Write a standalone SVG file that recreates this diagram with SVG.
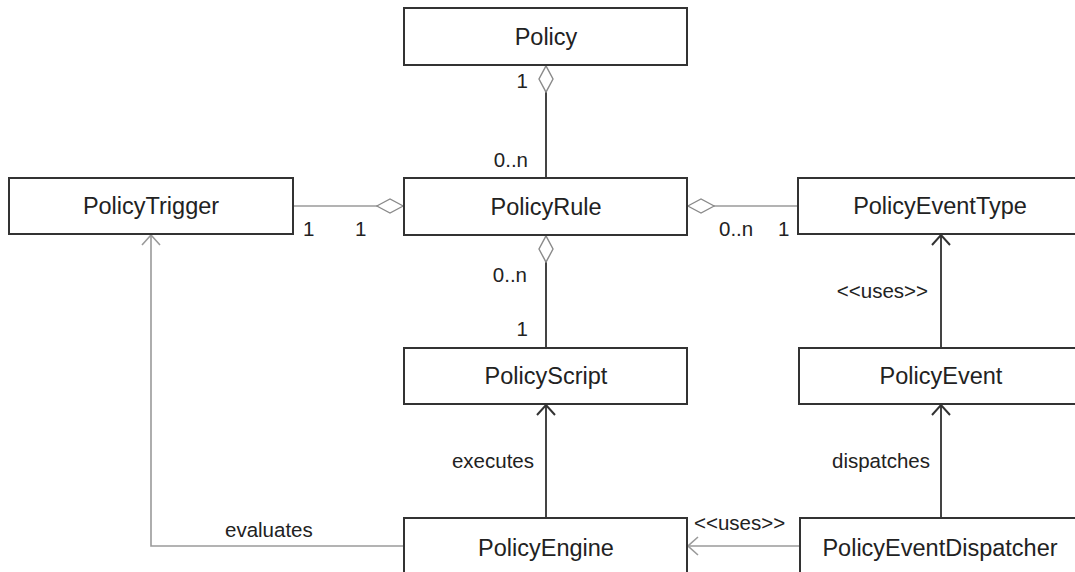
<svg xmlns="http://www.w3.org/2000/svg" width="1075" height="572" viewBox="0 0 1075 572">
  <style>
    .box { fill: #ffffff; stroke: #333333; stroke-width: 2; }
    .name { font-family: "Liberation Sans", Arial, sans-serif; font-size: 23.5px; fill: #222222; text-anchor: middle; }
    .lbl { font-family: "Liberation Sans", Arial, sans-serif; font-size: 20.5px; fill: #222222; }
    .end { text-anchor: end; }
    .dark { fill: none; stroke: #444444; stroke-width: 2; }
    .light { fill: none; stroke: #9a9a9a; stroke-width: 1.6; }
  </style>
  <defs>
    <marker id="diamond" viewBox="0 0 28 16" refX="0" refY="8" markerWidth="28" markerHeight="16" markerUnits="userSpaceOnUse" orient="auto">
      <path d="M0.8,8 L14,1 L27.2,8 L14,15 Z" fill="#ffffff" stroke="#8a8a8a" stroke-width="1.4"/>
    </marker>
    <marker id="arrowDark" viewBox="0 0 12 20" refX="11" refY="10" markerWidth="12" markerHeight="20" markerUnits="userSpaceOnUse" orient="auto">
      <path d="M1,1 L11,10 L1,19" fill="none" stroke="#333333" stroke-width="2"/>
    </marker>
    <marker id="arrowLight" viewBox="0 0 12 20" refX="11" refY="10" markerWidth="12" markerHeight="20" markerUnits="userSpaceOnUse" orient="auto">
      <path d="M1,1 L11,10 L1,19" fill="none" stroke="#9a9a9a" stroke-width="1.6"/>
    </marker>
  </defs>

  <rect width="1075" height="572" fill="#ffffff"/>

  <!-- connectors -->
  <g id="connectors">
    <path class="dark" d="M546,65 V178" marker-start="url(#diamond)"/>
    <path class="light" d="M404,206 H293" marker-start="url(#diamond)"/>
    <path class="light" d="M687,206 H798" marker-start="url(#diamond)"/>
    <path class="dark" d="M546,235 V348" marker-start="url(#diamond)"/>
    <path class="dark" d="M546,518 V405" marker-end="url(#arrowDark)"/>
    <path class="dark" d="M941,348 V235" marker-end="url(#arrowDark)"/>
    <path class="dark" d="M941,518 V405" marker-end="url(#arrowDark)"/>
    <path class="light" d="M800,546 H688" marker-end="url(#arrowLight)"/>
    <path class="light" d="M404,546 H151 V235" marker-end="url(#arrowLight)"/>

    <text class="lbl end" x="528" y="88">1</text>
    <text class="lbl end" x="528" y="167">0..n</text>
    <text class="lbl" x="303" y="236">1</text>
    <text class="lbl" x="355" y="236">1</text>
    <text class="lbl" x="719" y="236">0..n</text>
    <text class="lbl" x="778" y="236">1</text>
    <text class="lbl end" x="527" y="282">0..n</text>
    <text class="lbl end" x="528" y="336">1</text>
    <text class="lbl end" x="928" y="298">&lt;&lt;uses&gt;&gt;</text>
    <text class="lbl end" x="534" y="468">executes</text>
    <text class="lbl end" x="930" y="468">dispatches</text>
    <text class="lbl" x="694" y="530">&lt;&lt;uses&gt;&gt;</text>
    <text class="lbl" x="225" y="537">evaluates</text>
  </g>

  <!-- classes -->
  <g id="Policy">
    <rect class="box" x="404" y="8" width="283" height="57"/>
    <text class="name" x="546" y="45">Policy</text>
  </g>
  <g id="PolicyRule">
    <rect class="box" x="404" y="178" width="283" height="57"/>
    <text class="name" x="546" y="215">PolicyRule</text>
  </g>
  <g id="PolicyTrigger">
    <rect class="box" x="9" y="178" width="284" height="56"/>
    <text class="name" x="151" y="214">PolicyTrigger</text>
  </g>
  <g id="PolicyEventType">
    <rect class="box" x="798" y="178" width="286" height="56"/>
    <text class="name" x="940" y="214">PolicyEventType</text>
  </g>
  <g id="PolicyScript">
    <rect class="box" x="404" y="348" width="283" height="56"/>
    <text class="name" x="546" y="384">PolicyScript</text>
  </g>
  <g id="PolicyEvent">
    <rect class="box" x="799" y="348" width="285" height="56"/>
    <text class="name" x="941" y="384">PolicyEvent</text>
  </g>
  <g id="PolicyEngine">
    <rect class="box" x="404" y="518" width="283" height="64"/>
    <text class="name" x="546" y="556">PolicyEngine</text>
  </g>
  <g id="PolicyEventDispatcher">
    <rect class="box" x="800" y="518" width="285" height="64"/>
    <text class="name" x="940" y="556">PolicyEventDispatcher</text>
  </g>
</svg>
